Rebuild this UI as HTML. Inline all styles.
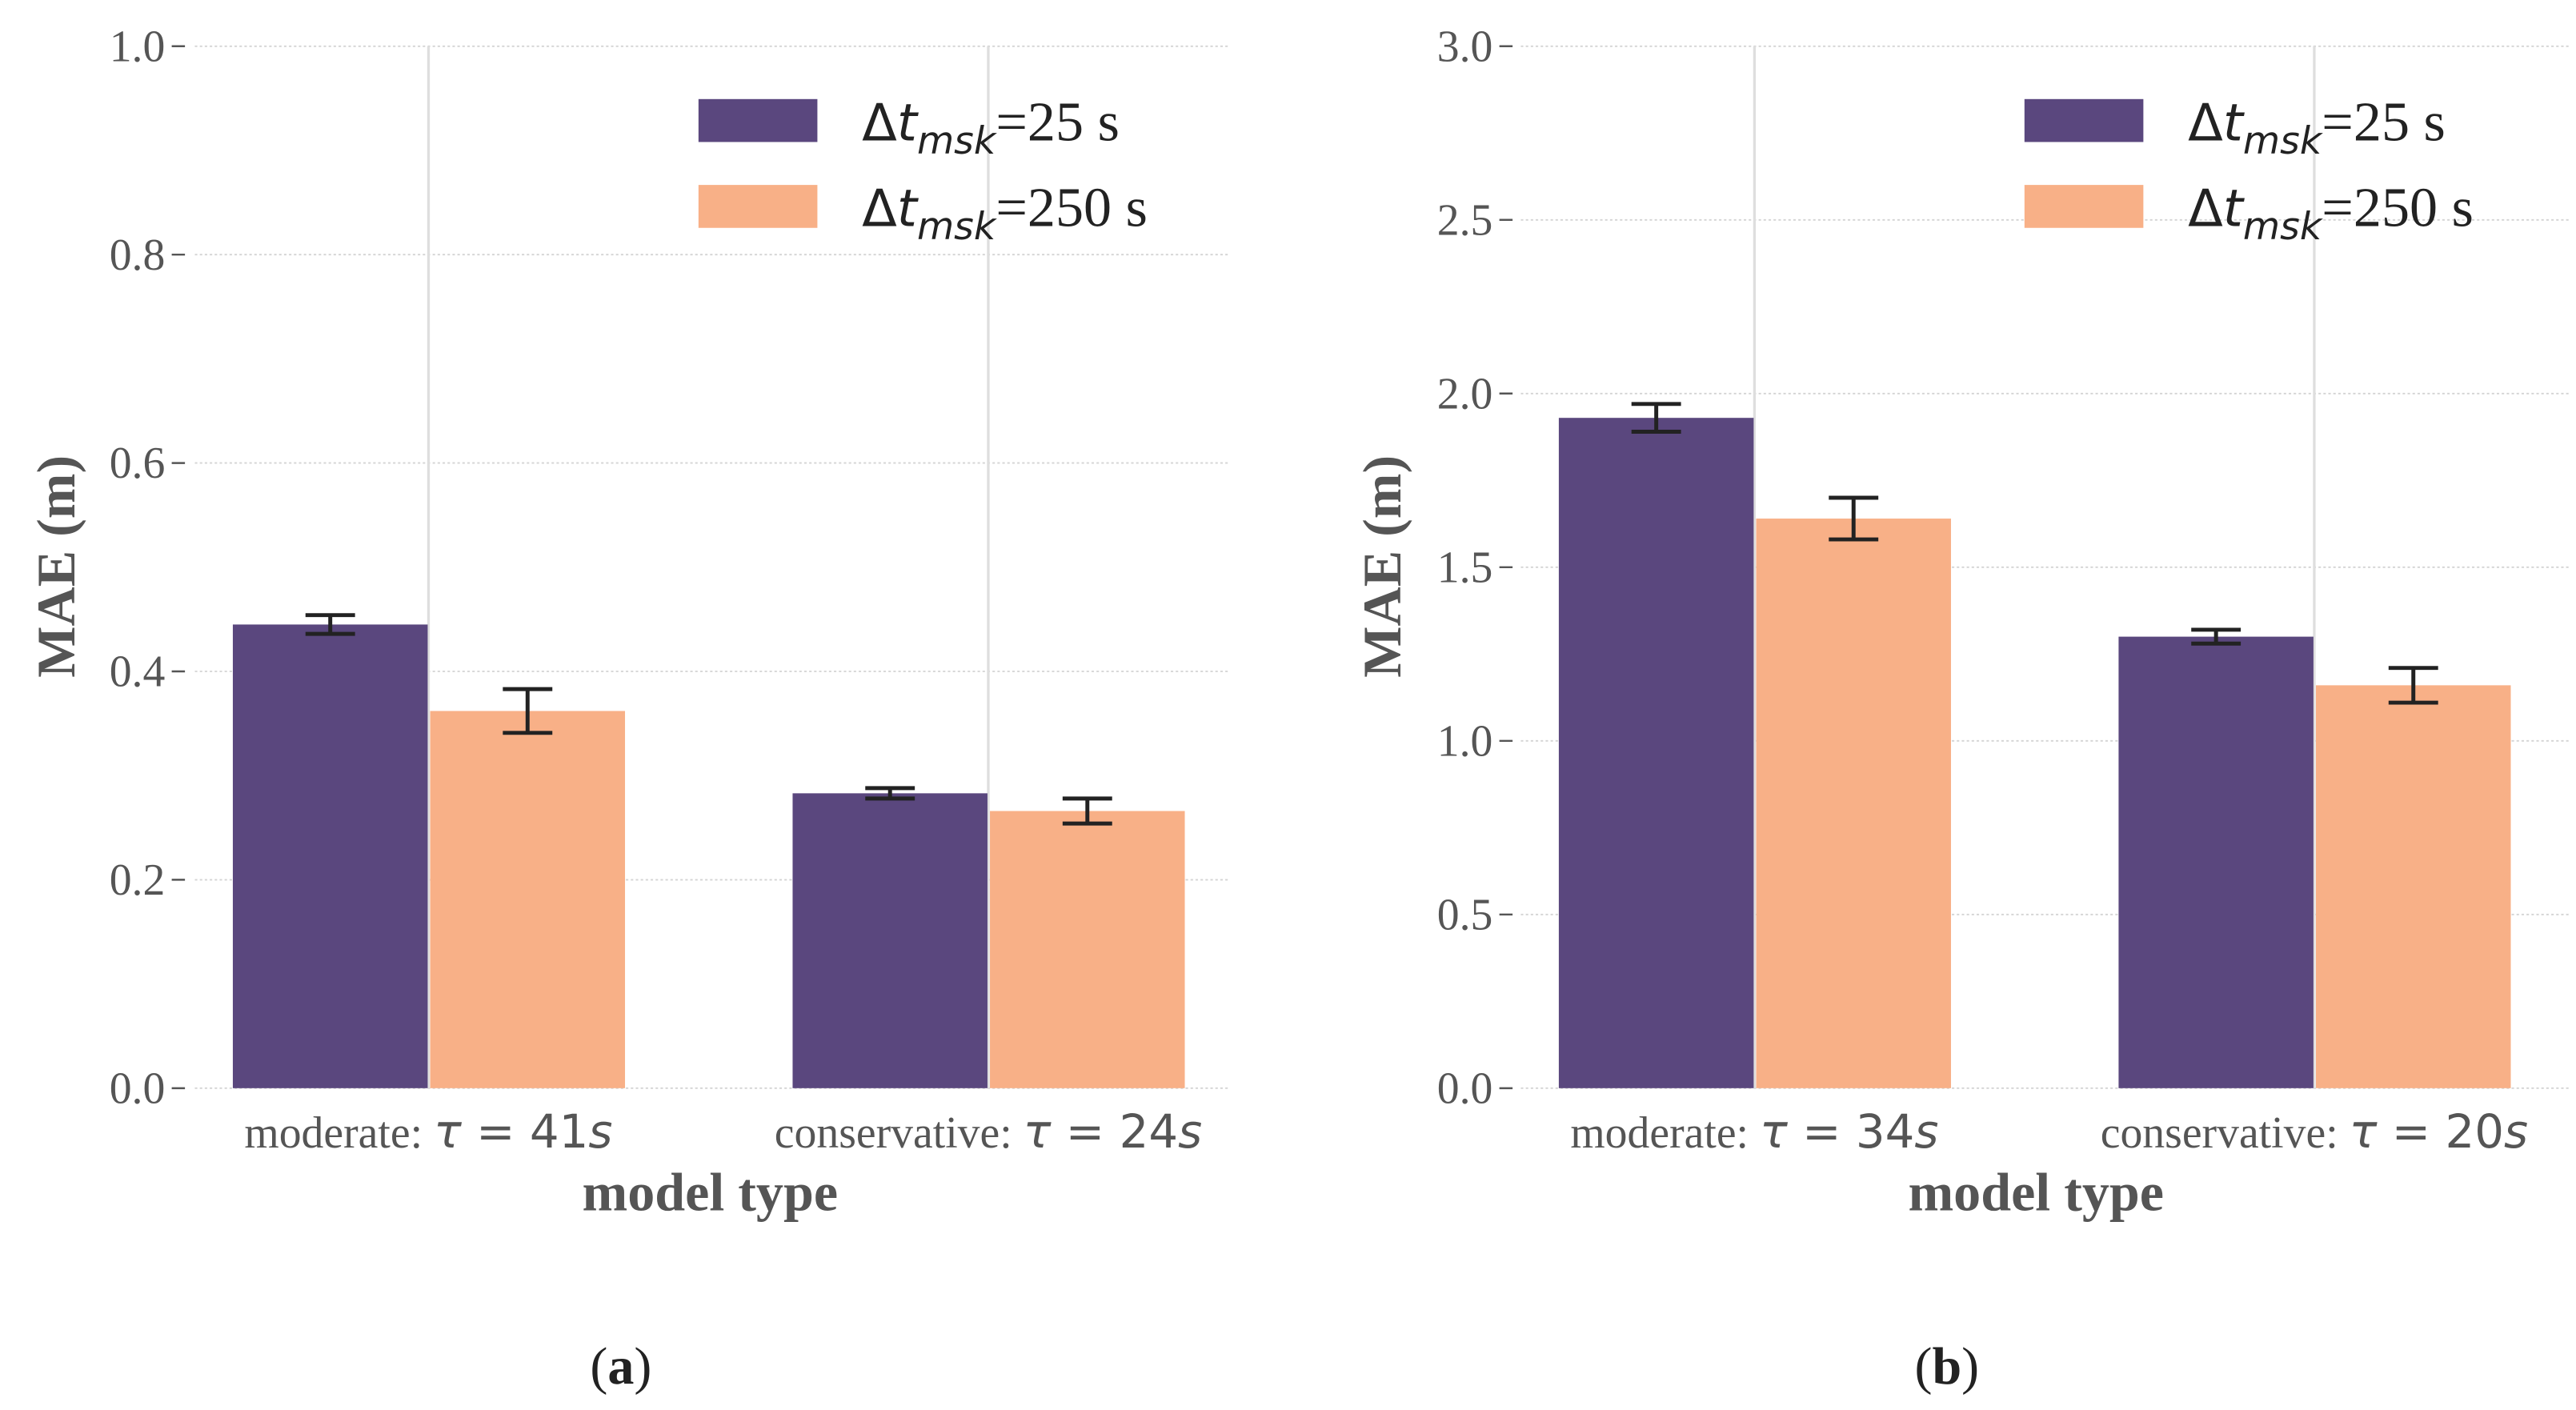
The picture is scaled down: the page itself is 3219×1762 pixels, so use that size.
<!DOCTYPE html>
<html><head><meta charset="utf-8"><style>
html,body{margin:0;padding:0;background:#fff}
svg{display:block}
text{font-family:"Liberation Serif",serif}
</style></head><body>
<svg id="fig" width="3219" height="1762" viewBox="0 0 1560 853.9" xmlns="http://www.w3.org/2000/svg"></svg>
<script>
const categoriesA = ["moderate: ", "conservative: "];
const tauA = ["41", "24"];
const seriesA25 = [0.445, 0.283];
const errA25 = [0.009, 0.005];
const seriesA250 = [0.362, 0.266];
const errA250 = [0.021, 0.012];
const ticksA = [0.0, 0.2, 0.4, 0.6, 0.8, 1.0];

const categoriesB = ["moderate: ", "conservative: "];
const tauB = ["34", "20"];
const seriesB25 = [1.93, 1.30];
const errB25 = [0.04, 0.02];
const seriesB250 = [1.64, 1.16];
const errB250 = [0.06, 0.05];
const ticksB = [0.0, 0.5, 1.0, 1.5, 2.0, 2.5, 3.0];

const legendLabels = ["25 s", "250 s"];
const NS = "http://www.w3.org/2000/svg";
const svg = document.getElementById('fig');
function mk(tag, attrs, parent, text){
  const e = document.createElementNS(NS, tag);
  for (const k in attrs) e.setAttribute(k, attrs[k]);
  if (text !== undefined) e.textContent = text;
  (parent || svg).appendChild(e);
  return e;
}
const C1 = "#5a477e", C2 = "#f8b087";

function panel(ox, cats, taus, s1, e1, s2, e2, ticks, ymax, letter, tickRight){
  const g = mk('g', {});
  
  
  const top = 28, bot = 659;
  const y = v => bot - (v / ymax) * (bot - top);
  const plotL = ox + 118, plotR = ox + 745 + (letter === 'b' ? 8 : 0);
  const groupStart = [ox + 141, ox + 480];
  const bw = 118;
  ticks.forEach(t => {
    const yy = y(t);
    const gl = mk('line', {x1: plotL, x2: plotR, y1: yy, y2: yy, stroke: "#d4d4d4", "stroke-width": 0.9, "stroke-dasharray": "1.5,1.5"}, g);
    
    
    const tk = mk('line', {x1: tickRight - 8, x2: tickRight, y1: yy, y2: yy, stroke: "#555", "stroke-width": 1.2}, g);
    
    
    const tl = mk('text', {x: tickRight - 12, y: yy + 9, "text-anchor": "end", "font-size": 27, fill: "#555"}, g, t.toFixed(1));
    
    
  });
  groupStart.forEach(gx => {
    const vl = mk('line', {x1: gx + bw + 0.5, x2: gx + bw + 0.5, y1: top, y2: bot, stroke: "#dedede", "stroke-width": 1.6}, g);
    
    
  });
  cats.forEach((c, i) => {
    [[s1, e1, C1, 0], [s2, e2, C2, 1]].forEach(([s, e, col, j]) => {
      const x = groupStart[i] + j * (bw + 1.5);
      const b = mk('rect', {x: x, y: y(s[i]), width: bw, height: bot - y(s[i]), fill: col}, g);
      
      
      const cx = x + bw / 2;
      const eg = mk('g', {stroke: "#222", "stroke-width": 2.4}, g);
      
      
      mk('line', {x1: cx, x2: cx, y1: y(s[i] + e[i]), y2: y(s[i] - e[i])}, eg);
      mk('line', {x1: cx - 15, x2: cx + 15, y1: y(s[i] + e[i]), y2: y(s[i] + e[i])}, eg);
      mk('line', {x1: cx - 15, x2: cx + 15, y1: y(s[i] - e[i]), y2: y(s[i] - e[i])}, eg);
    });
    const lx = groupStart[i] + bw + 0.5;
    const lab = mk('text', {x: lx, y: 695, "text-anchor": "middle", "font-size": 27, fill: "#555"}, g);
    
    
    mk('tspan', {}, lab, c);
    mk('tspan', {"font-family": "DejaVu Sans, sans-serif", "font-style": "italic", "font-size": 28}, lab, "\u03C4");
    mk('tspan', {"font-family": "DejaVu Sans, sans-serif", "font-size": 28}, lab, " = " + taus[i]);
    mk('tspan', {"font-family": "DejaVu Sans, sans-serif", "font-style": "italic", "font-size": 28}, lab, "s");
  });
  const xl = mk('text', {x: ox + 430, y: 733, "text-anchor": "middle", "font-size": 33, "font-weight": "bold", fill: "#555"}, g, "model type");
  
  
  const yl = mk('text', {x: 0, y: 0, "text-anchor": "middle", "font-size": 33, "font-weight": "bold", fill: "#555", transform: `translate(${ox + 45},343) rotate(-90)`}, g, "MAE (m)");
  
  
  const cap = mk('text', {x: ox + 376, y: 838, "text-anchor": "middle", "font-size": 32, fill: "#222"}, g);
  
  
  mk('tspan', {}, cap, "(");
  mk('tspan', {"font-weight": "bold"}, cap, letter);
  mk('tspan', {}, cap, ")");
  const lg = mk('g', {}, g);
  
  
  [C1, C2].forEach((col, k) => {
    const sy = 60 + k * 52;
    const sw = mk('rect', {x: ox + 423, y: sy, width: 72, height: 26, fill: col}, lg);
    
    
    const t = mk('text', {x: ox + 522, y: sy + 25, "font-size": 34, fill: "#222"}, lg);
    
    
    mk('tspan', {"font-family": "DejaVu Sans, sans-serif", "font-size": 31}, t, "\u0394");
    mk('tspan', {"font-family": "DejaVu Sans, sans-serif", "font-style": "italic", "font-size": 31}, t, "t");
    mk('tspan', {"font-family": "DejaVu Sans, sans-serif", "font-style": "italic", "font-size": 23, dy: 8}, t, "msk");
    mk('tspan', {dy: -8}, t, "=" + legendLabels[k]);
  });
}
panel(0, categoriesA, tauA, seriesA25, errA25, seriesA250, errA250, ticksA, 1.0, 'a', 112);
panel(803, categoriesB, tauB, seriesB25, errB25, seriesB250, errB250, ticksB, 3.0, 'b', 916);
</script>
</body></html>
